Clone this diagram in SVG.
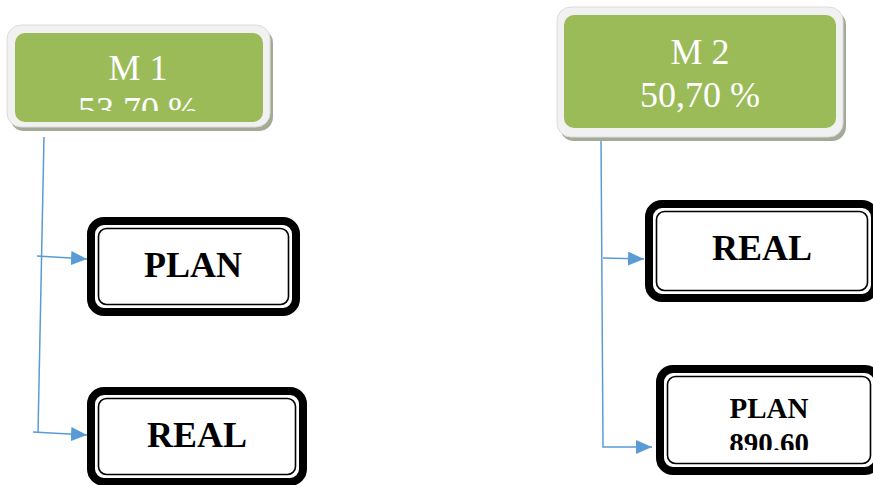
<svg xmlns="http://www.w3.org/2000/svg" width="873" height="485" viewBox="0 0 873 485">
<style>
.sh{fill:#a3aa98}
.outer{fill:#f1f1f1;stroke:#dcdcdc;stroke-width:1}
.green{fill:#9bbb59}
.mt{font-family:"Liberation Serif","Times New Roman",serif;font-size:36px;fill:#ffffff;text-anchor:middle}
.thick{fill:#ffffff;stroke:#000000;stroke-width:8}
.thin{fill:none;stroke:#000000;stroke-width:1.6}
.bt{font-family:"Liberation Serif","Times New Roman",serif;font-weight:bold;fill:#000000;text-anchor:middle}
.con{fill:none;stroke:#5b9bd5;stroke-width:1.5}
</style>
<defs>
<marker id="ah" markerUnits="userSpaceOnUse" markerWidth="17" markerHeight="14" refX="16" refY="7" orient="auto">
<path d="M0,0 L16,7 L0,14 Z" fill="#5b9bd5"/>
</marker>
<clipPath id="c1"><rect x="15" y="33" width="248" height="78"/></clipPath>
<clipPath id="c4"><rect x="660" y="370" width="220" height="80"/></clipPath>
</defs>
<rect width="873" height="485" fill="#ffffff"/>
<g id="connectors">
<path class="con" d="M44,137 L38,433"/>
<path class="con" d="M37,256 L87,259" marker-end="url(#ah)"/>
<path class="con" d="M33,432 L87,435" marker-end="url(#ah)"/>
<path class="con" d="M601,137 L603,447 L652,447" marker-end="url(#ah)"/>
<path class="con" d="M603,258 L644,259" marker-end="url(#ah)"/>
</g>
<g id="m1">
<rect class="sh" x="10" y="29" width="263" height="102" rx="14"/>
<rect class="outer" x="7" y="25" width="263" height="102" rx="14"/>
<rect class="green" x="15" y="33" width="248" height="89" rx="10"/>
<g clip-path="url(#c1)">
<text class="mt" x="138" y="80">M 1</text>
<text class="mt" x="138" y="122">53,70 %</text>
</g>
</g>
<g id="m2">
<rect class="sh" x="560" y="11" width="286" height="130" rx="14"/>
<rect class="outer" x="557" y="7" width="286" height="130" rx="14"/>
<rect class="green" x="564" y="15" width="272" height="113" rx="10"/>
<text class="mt" x="700" y="64">M 2</text>
<text class="mt" x="700" y="107">50,70 %</text>
</g>
<g id="plan1">
<rect class="thick" x="91" y="221" width="205" height="91" rx="13"/>
<rect class="thin" x="98.5" y="228.5" width="190" height="76" rx="8"/>
<text class="bt" x="193" y="277" font-size="36">PLAN</text>
</g>
<g id="real1">
<rect class="thick" x="91" y="391" width="212" height="91" rx="13"/>
<rect class="thin" x="98.5" y="398.5" width="197" height="76" rx="8"/>
<text class="bt" x="197" y="447" font-size="36">REAL</text>
</g>
<g id="real2">
<rect class="thick" x="649" y="204" width="226" height="94" rx="13"/>
<rect class="thin" x="656.5" y="211.5" width="211" height="79" rx="8"/>
<text class="bt" x="762" y="260" font-size="36">REAL</text>
</g>
<g id="plan2">
<rect class="thick" x="660" y="369" width="218" height="102" rx="13"/>
<rect class="thin" x="667.5" y="376.5" width="203" height="87" rx="8"/>
<g clip-path="url(#c4)">
<text class="bt" x="769" y="418" font-size="29">PLAN</text>
<text class="bt" x="769" y="453" font-size="29">890.60</text>
</g>
</g>
</svg>
